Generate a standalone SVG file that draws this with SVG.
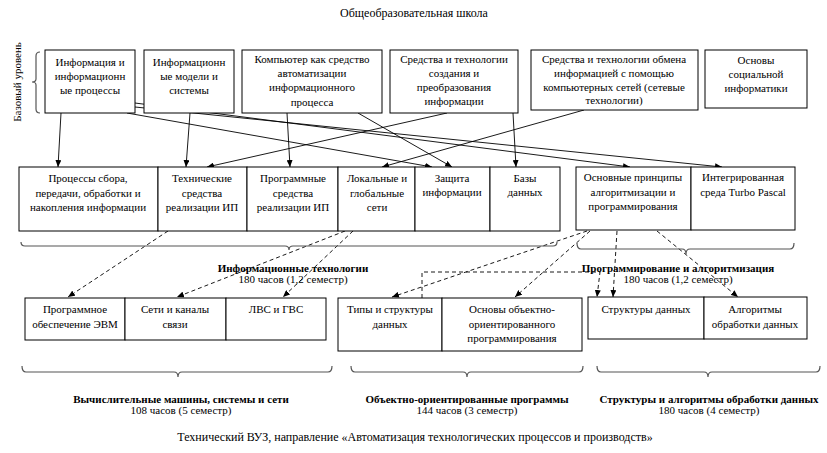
<svg xmlns="http://www.w3.org/2000/svg" width="827" height="453" viewBox="0 0 827 453">
<style>
text{font-family:"Liberation Serif","Times New Roman",serif;font-size:11px;fill:#000;text-anchor:middle}
.t{font-size:12px}
.b{font-weight:bold}
rect{fill:#fff;stroke:#000;stroke-width:1}
.c{fill:none;stroke:#000;stroke-width:0.9}
.d{fill:none;stroke:#000;stroke-width:0.9;stroke-dasharray:4,3}
.br{fill:none;stroke:#555;stroke-width:1.2}
</style>
<defs>
<marker id="a" markerUnits="userSpaceOnUse" markerWidth="8" markerHeight="6" refX="7" refY="3" orient="auto">
<path d="M0,0 L7,3 L0,6 z" fill="#000"/>
</marker>
</defs>
<rect x="0" y="0" width="827" height="453" style="fill:#fff;stroke:none"/>
<text class="t" x="414" y="17">Общеобразовательная школа</text>
<text x="0" y="0" transform="translate(21,82) rotate(-90)">Базовый уровень</text>
<path class="br" d="M40,52 Q36,52 36,56 L36,79 Q36,82 32,82 Q36,82 36,85 L36,109 Q36,113 40,113"/>

<g id="connectors">
<path class="c" marker-end="url(#a)" d="M61,113 L58,167"/>
<path class="c" marker-end="url(#a)" d="M190,113 L186,167"/>
<path class="c" marker-end="url(#a)" d="M287,113 L290,167"/>
<path class="c" marker-end="url(#a)" d="M447,113 L207,167"/>
<path class="c" marker-end="url(#a)" d="M513,113 L516,167"/>
<path class="c" marker-end="url(#a)" d="M358,113 L452,167"/>
<path class="c" marker-end="url(#a)" d="M584,110 L382,167"/>
<path class="c" marker-end="url(#a)" d="M127,113 L432,167"/>
<path class="c" marker-end="url(#a)" d="M135,103 L630,167"/>
<path class="c" marker-end="url(#a)" d="M135,107 L722,167"/>
<path class="d" marker-end="url(#a)" d="M168,231 L68,297"/>
<path class="d" marker-end="url(#a)" d="M345,231 L177,297"/>
<path class="d" marker-end="url(#a)" d="M353,231 L283,297"/>
<path class="d" marker-end="url(#a)" d="M587,231 L392,297"/>
<path class="d" marker-end="url(#a)" d="M590,231 L515,297"/>
<path class="d" marker-end="url(#a)" d="M617,231 L613,297"/>
<path class="d" marker-end="url(#a)" d="M657,231 L738,297"/>
<path class="d" marker-end="url(#a)" d="M422,298 L422,272 L600,272 L597,297"/>
</g>

<g id="top1"><rect x="45" y="50" width="90" height="63"/><text x="90" y="66">Информация и</text><text x="90" y="80">информационн</text><text x="90" y="94">ые процессы</text></g>
<g id="top2"><rect x="144" y="50" width="90" height="63"/><text x="189" y="66">Информационн</text><text x="189" y="80">ые модели и</text><text x="189" y="94">системы</text></g>
<g id="top3"><rect x="242" y="50" width="140" height="63"/><text x="312" y="63">Компьютер как средство</text><text x="312" y="77">автоматизации</text><text x="312" y="91">информационного</text><text x="312" y="106">процесса</text></g>
<g id="top4"><rect x="390" y="50" width="128" height="63"/><text x="454" y="63">Средства и технологии</text><text x="454" y="77">создания и</text><text x="454" y="91">преобразования</text><text x="454" y="105">информации</text></g>
<g id="top5"><rect x="531" y="50" width="167" height="60"/><text x="614" y="63">Средства и технологии обмена</text><text x="614" y="77">информацией с помощью</text><text x="614" y="91">компьютерных сетей (сетевые</text><text x="614" y="104">технологии)</text></g>
<g id="top6"><rect x="705" y="50" width="102" height="58"/><text x="756" y="64">Основы</text><text x="756" y="78">социальной</text><text x="756" y="92">информатики</text></g>

<g id="mid1"><rect x="19" y="167" width="139" height="64"/><text x="88" y="182">Процессы сбора,</text><text x="88" y="197">передачи, обработки и</text><text x="88" y="211">накопления информации</text></g>
<g id="mid2"><rect x="158" y="167" width="89" height="64"/><text x="202" y="182">Технические</text><text x="202" y="197">средства</text><text x="202" y="211">реализации ИП</text></g>
<g id="mid3"><rect x="247" y="167" width="91" height="64"/><text x="293" y="182">Программные</text><text x="293" y="197">средства</text><text x="293" y="211">реализации ИП</text></g>
<g id="mid4"><rect x="338" y="167" width="77" height="64"/><text x="377" y="182">Локальные и</text><text x="377" y="197">глобальные</text><text x="377" y="211">сети</text></g>
<g id="mid5"><rect x="415" y="167" width="75" height="64"/><text x="452" y="182">Защита</text><text x="452" y="196">информации</text></g>
<g id="mid6"><rect x="490" y="167" width="70" height="64"/><text x="525" y="182">Базы</text><text x="525" y="196">данных</text></g>
<g id="mid7"><rect x="576" y="167" width="115" height="63"/><text x="633" y="181">Основные принципы</text><text x="633" y="196">алгоритмизации и</text><text x="633" y="210">программирования</text></g>
<g id="mid8"><rect x="691" y="167" width="104" height="63"/><text x="743" y="181">Интегрированная</text><text x="743" y="196">среда Turbo Pascal</text></g>

<path class="br" d="M21,242 Q21,246 25,246 L285,246 Q289,246 289,250 Q289,246 293,246 L553,246 Q557,246 557,242"/>
<path class="br" d="M577,243 Q577,249 581,249 L682,249 Q686,249 686,254 Q686,249 690,249 L790,249 Q794,249 794,243"/>
<text class="b" x="293" y="272">Информационные технологии</text>
<text x="293" y="283">180 часов (1,2 семестр)</text>
<text class="b" x="678" y="272">Программирование и алгоритмизация</text>
<text x="678" y="283">180 часов (1,2 семестр)</text>

<g id="bot1"><rect x="25" y="298" width="100" height="42"/><text x="75" y="313">Программное</text><text x="75" y="328">обеспечение ЭВМ</text></g>
<g id="bot2"><rect x="125" y="298" width="101" height="42"/><text x="175" y="313">Сети и каналы</text><text x="175" y="328">связи</text></g>
<g id="bot3"><rect x="226" y="298" width="100" height="42"/><text x="276" y="313">ЛВС и ГВС</text></g>
<g id="bot4"><rect x="338" y="298" width="104" height="53"/><text x="390" y="313">Типы и структуры</text><text x="390" y="328">данных</text></g>
<g id="bot5"><rect x="442" y="298" width="140" height="53"/><text x="512" y="313">Основы объектно-</text><text x="512" y="328">ориентированного</text><text x="512" y="342">программирования</text></g>
<g id="bot6"><rect x="588" y="297" width="116" height="42"/><text x="646" y="313">Структуры данных</text></g>
<g id="bot7"><rect x="704" y="297" width="103" height="42"/><text x="755" y="313">Алгоритмы</text><text x="755" y="328">обработки данных</text></g>

<path class="br" d="M22,366 Q22,372 26,372 L174,372 Q178,372 178,377 Q178,372 182,372 L328,372 Q332,372 332,366"/>
<path class="br" d="M351,366 Q351,372 355,372 L463,372 Q467,372 467,377 Q467,372 471,372 L579,372 Q583,372 583,366"/>
<path class="br" d="M597,366 Q597,372 601,372 L704,372 Q708,372 708,377 Q708,372 712,372 L816,372 Q820,372 820,366"/>
<text class="b" x="181" y="403">Вычислительные машины, системы и сети</text>
<text x="181" y="414">108 часов (5 семестр)</text>
<text class="b" x="467" y="403">Объектно-ориентированные программы</text>
<text x="467" y="414">144 часов (3 семестр)</text>
<text class="b" x="709" y="403">Структуры и алгоритмы обработки данных</text>
<text x="709" y="414">180 часов (4 семестр)</text>
<text class="t" x="415" y="441">Технический ВУЗ, направление «Автоматизация технологических процессов и производств»</text>
</svg>
